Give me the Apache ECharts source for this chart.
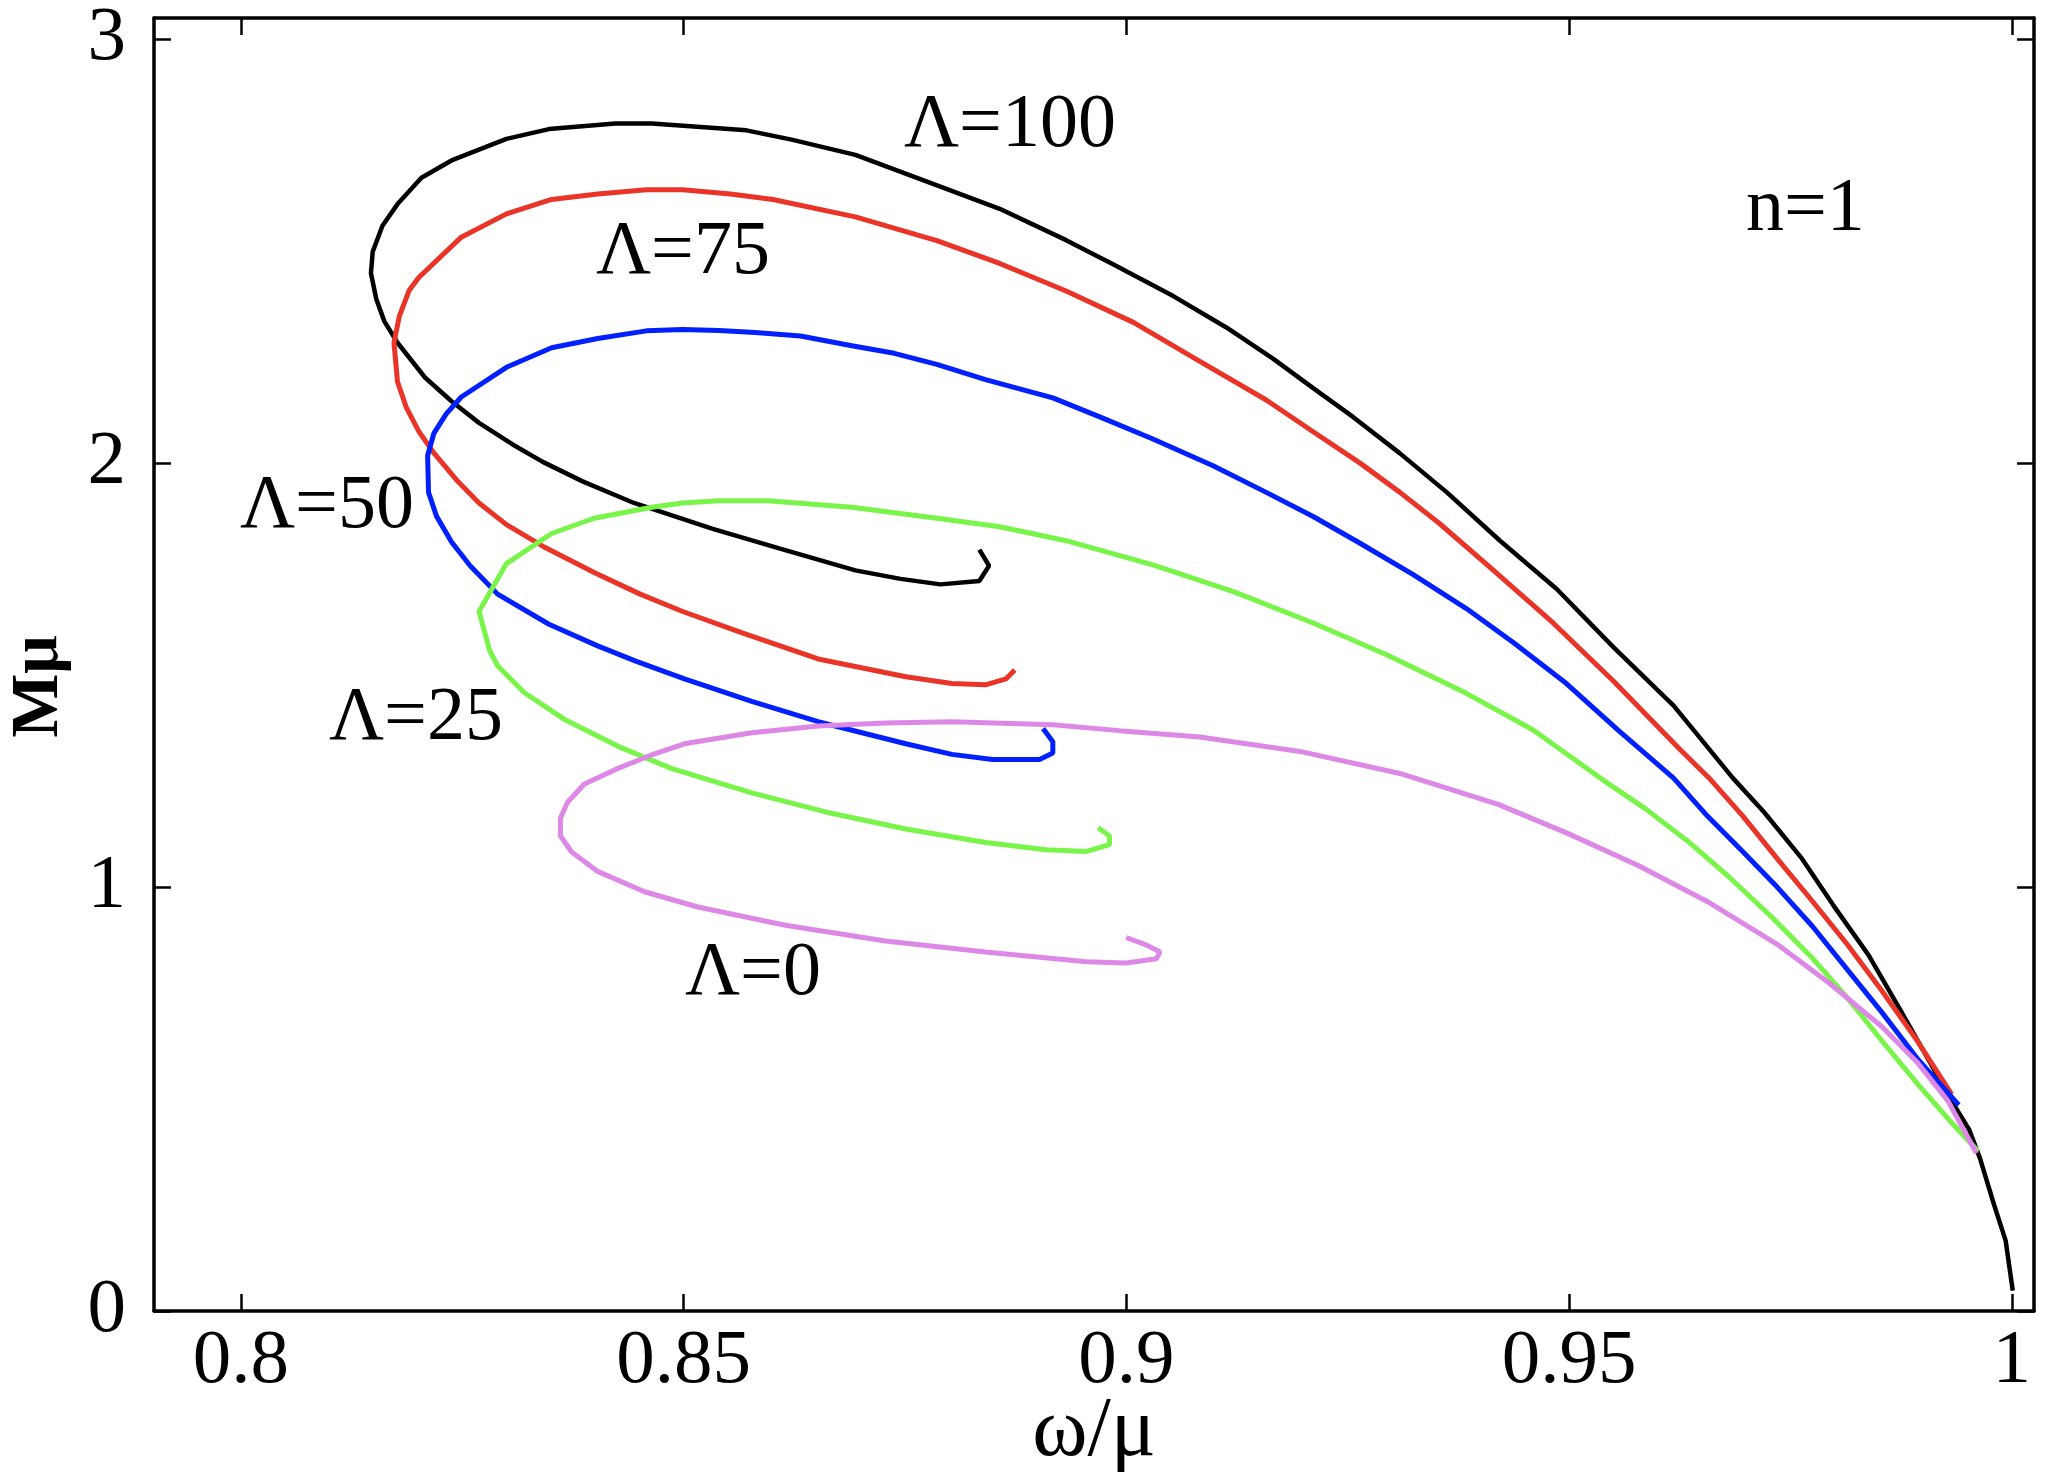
<!DOCTYPE html>
<html>
<head>
<meta charset="utf-8">
<script src="https://cdn.jsdelivr.net/npm/echarts@6/dist/echarts.min.js"></script>
<style>
  html, body { margin: 0; padding: 0; background: #fff; }
  #chart { width: 2045px; height: 1472px; }
</style>
</head>
<body>
<div id="chart"></div>
<script>
// M(omega) curves for n=1, one array of [omega/mu, M mu] pairs per Lambda
var lambda100 = [
  [0.8834,1.796],[0.8845,1.758],[0.8834,1.722],[0.8790,1.714],[0.8745,1.727],[0.8694,1.747],
  [0.8608,1.799],[0.8533,1.845],[0.8444,1.906],[0.8386,1.957],[0.8341,2.003],[0.8307,2.044],
  [0.8269,2.095],[0.8238,2.146],[0.8208,2.202],[0.8177,2.284],[0.8162,2.335],[0.8153,2.387],
  [0.8147,2.448],[0.8149,2.499],[0.8160,2.560],[0.8177,2.611],[0.8204,2.673],[0.8238,2.714],
  [0.8300,2.765],[0.8348,2.788],[0.8423,2.801],[0.8464,2.801],[0.8571,2.785],[0.8622,2.763],
  [0.8694,2.727],[0.8790,2.652],[0.8857,2.600],[0.8932,2.526],[0.8985,2.469],[0.9053,2.394],
  [0.9113,2.320],[0.9166,2.246],[0.9211,2.177],[0.9256,2.109],[0.9309,2.023],[0.9362,1.931],
  [0.9422,1.817],[0.9486,1.703],[0.9550,1.566],[0.9618,1.428],[0.9685,1.257],[0.9720,1.177],
  [0.9763,1.067],[0.9798,0.958],[0.9838,0.840],[0.9873,0.714],[0.9905,0.596],[0.9932,0.495],
  [0.9952,0.427],[0.9964,0.360],[0.9980,0.250],[0.9993,0.166],[0.9997,0.107],[1.0001,0.048]
];
var lambda75 = [
  [0.8874,1.512],[0.8864,1.491],[0.8841,1.477],[0.8803,1.480],[0.8751,1.496],[0.8652,1.538],
  [0.8567,1.599],[0.8499,1.650],[0.8451,1.691],[0.8399,1.742],[0.8341,1.804],[0.8300,1.855],
  [0.8269,1.906],[0.8245,1.957],[0.8218,2.024],[0.8201,2.075],[0.8187,2.131],[0.8177,2.192],
  [0.8173,2.284],[0.8179,2.346],[0.8190,2.407],[0.8201,2.438],[0.8249,2.533],[0.8300,2.588],
  [0.8351,2.622],[0.8403,2.635],[0.8458,2.645],[0.8499,2.645],[0.8553,2.635],[0.8601,2.622],
  [0.8694,2.581],[0.8786,2.525],[0.8857,2.471],[0.8932,2.406],[0.9008,2.332],[0.9083,2.240],
  [0.9158,2.149],[0.9211,2.074],[0.9264,2.000],[0.9309,1.931],[0.9354,1.857],[0.9414,1.748],
  [0.9482,1.623],[0.9550,1.486],[0.9625,1.325],[0.9660,1.253],[0.9696,1.168],[0.9735,1.067],
  [0.9775,0.966],[0.9814,0.865],[0.9853,0.756],[0.9893,0.638],[0.9932,0.511]
];
var lambda50 = [
  [0.8906,1.374],[0.8917,1.343],[0.8917,1.316],[0.8902,1.301],[0.8849,1.301],[0.8803,1.313],
  [0.8751,1.338],[0.8652,1.390],[0.8577,1.438],[0.8501,1.491],[0.8446,1.533],[0.8403,1.569],
  [0.8348,1.620],[0.8290,1.691],[0.8259,1.758],[0.8238,1.814],[0.8221,1.875],[0.8212,1.931],
  [0.8211,2.018],[0.8218,2.070],[0.8232,2.116],[0.8249,2.156],[0.8300,2.226],[0.8351,2.272],
  [0.8403,2.294],[0.8458,2.312],[0.8499,2.315],[0.8540,2.313],[0.8581,2.308],[0.8632,2.300],
  [0.8690,2.277],[0.8738,2.259],[0.8786,2.233],[0.8841,2.197],[0.8917,2.154],[0.8970,2.109],
  [0.9030,2.057],[0.9098,1.994],[0.9158,1.931],[0.9211,1.874],[0.9264,1.811],[0.9324,1.737],
  [0.9384,1.657],[0.9437,1.577],[0.9497,1.480],[0.9555,1.371],[0.9618,1.257],[0.9656,1.168],
  [0.9696,1.084],[0.9735,1.000],[0.9775,0.907],[0.9814,0.806],[0.9853,0.705],[0.9893,0.596],
  [0.9940,0.486]
];
var lambda25 = [
  [0.8968,1.140],[0.8981,1.121],[0.8981,1.100],[0.8955,1.084],[0.8909,1.088],[0.8841,1.105],
  [0.8751,1.137],[0.8667,1.174],[0.8577,1.222],[0.8486,1.280],[0.8426,1.332],[0.8365,1.396],
  [0.8320,1.459],[0.8290,1.522],[0.8281,1.558],[0.8269,1.650],[0.8300,1.763],[0.8351,1.834],
  [0.8399,1.870],[0.8464,1.896],[0.8499,1.906],[0.8540,1.911],[0.8595,1.911],[0.8690,1.896],
  [0.8786,1.870],[0.8857,1.850],[0.8932,1.817],[0.9030,1.760],[0.9121,1.697],[0.9211,1.623],
  [0.9294,1.548],[0.9384,1.457],[0.9459,1.371],[0.9538,1.253],[0.9586,1.185],[0.9633,1.110],
  [0.9680,1.025],[0.9727,0.933],[0.9775,0.832],[0.9814,0.739],[0.9853,0.638],[0.9893,0.537],
  [0.9932,0.444],[0.9962,0.377]
];
var lambda0 = [
  [0.9000,0.881],[0.9023,0.863],[0.9038,0.847],[0.9034,0.831],[0.9000,0.821],[0.8955,0.824],
  [0.8841,0.847],[0.8728,0.873],[0.8615,0.910],[0.8516,0.953],[0.8456,0.989],[0.8403,1.037],
  [0.8373,1.084],[0.8361,1.121],[0.8361,1.163],[0.8369,1.200],[0.8388,1.243],[0.8426,1.280],
  [0.8463,1.311],[0.8501,1.338],[0.8577,1.364],[0.8652,1.380],[0.8728,1.387],[0.8803,1.390],
  [0.8917,1.383],[0.8992,1.369],[0.9083,1.354],[0.9196,1.320],[0.9309,1.268],[0.9420,1.195],
  [0.9499,1.126],[0.9578,1.051],[0.9656,0.966],[0.9735,0.865],[0.9794,0.773],[0.9853,0.671],
  [0.9893,0.587],[0.9928,0.495],[0.9960,0.372]
];

var seriesNames = ['\u039b=100', '\u039b=75', '\u039b=50', '\u039b=25', '\u039b=0'];
var seriesColors = ['#000000', '#ea3428', '#0020ff', '#78f548', '#dd88e6'];
var xTicks = [0.8, 0.85, 0.9, 0.95, 1];
var yTicks = [0, 1, 2, 3];

var FONT = '"Liberation Serif", "Times New Roman", serif';
var chart = echarts.init(document.getElementById('chart'));

function axisBase(pos, ticks, min, max, showLabels) {
  return {
    type: 'value',
    position: pos,
    min: min,
    max: max,
    splitLine: { show: false },
    axisLine: { show: true, onZero: false, lineStyle: { color: '#000', width: 3.5 } },
    axisTick: { show: true, inside: true, length: 17, customValues: ticks,
                lineStyle: { color: '#000', width: 2.5 } },
    axisLabel: { show: showLabels, customValues: ticks, fontFamily: FONT,
                 fontSize: 77, color: '#000',
                 formatter: function (v) { return String(+v.toFixed(2)); } }
  };
}

var xBottom = axisBase('bottom', xTicks, 0.7902, 1.0025, true);
xBottom.axisLabel.margin = 12;
xBottom.name = '\u03c9/\u03bc';
xBottom.nameLocation = 'middle';
xBottom.nameGap = 80;
xBottom.nameMoveOverlap = false;
xBottom.nameTextStyle = { fontFamily: FONT, fontSize: 84, color: '#000' };

var yLeft = axisBase('left', yTicks, 0, 3.05, true);
yLeft.axisLabel.margin = 28;
yLeft.name = 'M\u03bc';
yLeft.nameLocation = 'middle';
yLeft.nameGap = 81;
yLeft.nameMoveOverlap = false;
// right padding nudges the rotated name a little down the axis
yLeft.nameTextStyle = { fontFamily: FONT, fontSize: 68, fontWeight: 'bold', color: '#000',
                        padding: [0, 44, 0, 0] };

var lines = [lambda100, lambda75, lambda50, lambda25, lambda0].map(function (d, i) {
  return {
    name: seriesNames[i],
    type: 'line',
    data: d,
    showSymbol: false,
    symbol: 'none',
    smooth: false,
    z: 2 + i,
    lineStyle: { color: seriesColors[i], width: i === 0 ? 4.5 : 5 }
  };
});

function note(text, left, y) {
  return {
    type: 'text', left: left, top: y - 39,
    style: { text: text, font: '76px ' + FONT, fill: '#000' }
  };
}

chart.setOption({
  backgroundColor: '#fff',
  animation: false,
  grid: { left: 154, right: 11, top: 18, bottom: 161, containLabel: false,
          outerBoundsMode: 'none' },
  xAxis: [xBottom, axisBase('top', xTicks, 0.7902, 1.0025, false)],
  yAxis: [yLeft, axisBase('right', yTicks, 0, 3.05, false)],
  series: lines,
  graphic: [
    note('\u039b=100', 904, 127),
    note('\u039b=75', 596, 254),
    note('\u039b=50', 240, 508),
    note('\u039b=25', 329, 720),
    note('\u039b=0', 685, 975),
    note('n=1', 1746, 211)
  ]
});
</script>
</body>
</html>
